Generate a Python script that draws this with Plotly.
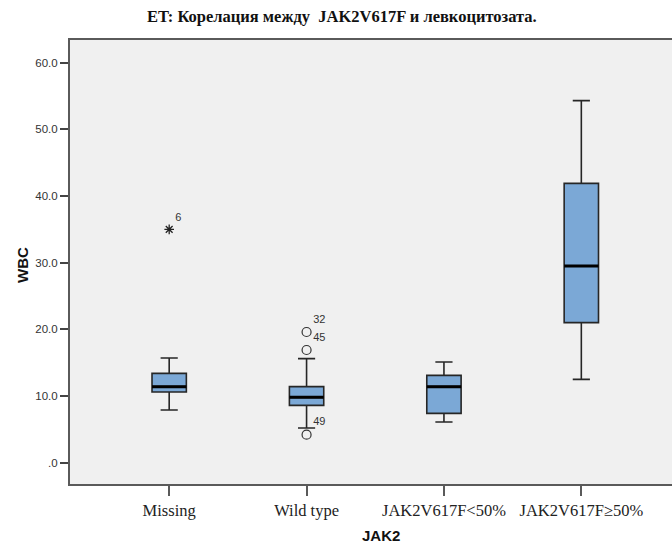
import plotly.graph_objects as go

categories = ["Missing", "Wild type", "JAK2V617F<50%", "JAK2V617F≥50%"]
lower_whisker = [7.9, 5.2, 6.1, 12.5]
q1_values = [10.6, 8.6, 7.4, 21.0]
median_values = [11.4, 9.8, 11.4, 29.5]
q3_values = [13.4, 11.4, 13.1, 41.9]
upper_whisker = [15.7, 15.6, 15.1, 54.3]

# outliers: (category index, value, case label)
extreme_cat = [0]
extreme_val = [35.0]
extreme_lab = ["6"]
outlier_cat = [1, 1, 1]
outlier_val = [19.6, 16.9, 4.2]
outlier_lab = ["32", "45", "49"]

y_ticks = [0, 10, 20, 30, 40, 50, 60]
y_ticktext = [".0", "10.0", "20.0", "30.0", "40.0", "50.0", "60.0"]

BOX_W = 0.25
positions = list(range(len(categories)))

fig = go.Figure()
fig.add_trace(go.Box(
    x=positions, q1=q1_values, median=median_values, q3=q3_values,
    lowerfence=lower_whisker, upperfence=upper_whisker,
    width=BOX_W, whiskerwidth=0.5, boxpoints=False,
    fillcolor="#7BA8D6", line=dict(color="#262626", width=1.6),
    showlegend=False, hoverinfo="skip"))

# thick median lines
mx, my = [], []
for p, m in zip(positions, median_values):
    mx += [p - BOX_W / 2, p + BOX_W / 2, None]
    my += [m, m, None]
fig.add_trace(go.Scatter(x=mx, y=my, mode="lines",
                         line=dict(color="#000000", width=3), showlegend=False,
                         hoverinfo="skip"))

fig.add_trace(go.Scatter(
    x=extreme_cat, y=extreme_val, mode="markers+text", text=extreme_lab,
    textposition="top right", textfont=dict(family="Arial, Liberation Sans", size=11, color="#333"),
    marker=dict(symbol="asterisk-open", size=8, color="#222", line=dict(color="#222", width=1.3)),
    showlegend=False, hoverinfo="skip"))
fig.add_trace(go.Scatter(
    x=outlier_cat, y=outlier_val, mode="markers+text", text=outlier_lab,
    textposition="top right", textfont=dict(family="Arial, Liberation Sans", size=11, color="#333"),
    marker=dict(symbol="circle-open", size=9, color="#333", line=dict(color="#333", width=1.2)),
    showlegend=False, hoverinfo="skip"))

W, H = 672, 543
pl, pr, pt, pb = 70, 0, 40, 59
pw, ph = W - pl - pr, H - pt - pb

fig.update_layout(
    width=W, height=H,
    margin=dict(l=pl, r=pr, t=pt, b=pb),
    paper_bgcolor="white", plot_bgcolor="#F0F0F0",
    xaxis=dict(range=[-0.722, 3.66], tickvals=positions, ticktext=categories,
               showgrid=False, zeroline=False, showline=True, linecolor="#5a5a5a",
               linewidth=2, mirror=True, ticks="outside", ticklen=10, tickwidth=2,
               tickcolor="#5a5a5a",
               tickfont=dict(family="Liberation Serif, Times New Roman", size=16.5, color="#222")),
    yaxis=dict(range=[-3.2, 63.4], tickvals=y_ticks, ticktext=y_ticktext,
               showgrid=False, zeroline=False, showline=True, linecolor="#5a5a5a",
               linewidth=2, ticks="outside", ticklen=8, tickwidth=1.5,
               tickcolor="#444",
               tickfont=dict(family="Arial, Liberation Sans", size=11.5, color="#333")),
)

def px(xp):
    return (xp - pl) / pw
def py(yp):
    return (H - pb - yp) / ph

fig.add_annotation(text="<b>ET: Корелация между  JAK2V617F и левкоцитозата.</b>",
                   x=px(342), y=py(17), xref="paper", yref="paper", showarrow=False,
                   xanchor="center", yanchor="middle",
                   font=dict(family="Liberation Serif, Times New Roman", size=16.5, color="#111"))
fig.add_annotation(text="<b>JAK2</b>", x=px(381), y=py(535), xref="paper", yref="paper",
                   showarrow=False, xanchor="center", yanchor="middle",
                   font=dict(family="Arial, Liberation Sans", size=15, color="#111"))
fig.add_annotation(text="<b>WBC</b>", x=px(22), y=py(265), xref="paper", yref="paper",
                   showarrow=False, textangle=-90, xanchor="center", yanchor="middle",
                   font=dict(family="Arial, Liberation Sans", size=15, color="#111"))

fig.write_html("out.html")
